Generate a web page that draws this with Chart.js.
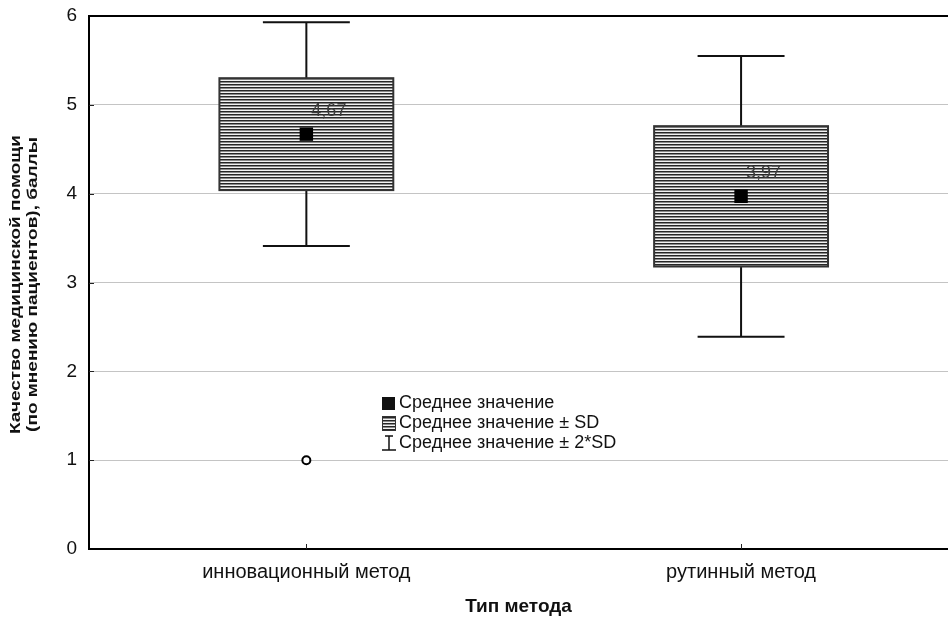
<!DOCTYPE html>
<html>
<head>
<meta charset="utf-8">
<script src="https://cdn.jsdelivr.net/npm/chart.js@4.4.1/dist/chart.umd.min.js"></script>
<style>
  html, body { margin: 0; padding: 0; background: #ffffff; }
  #wrap { width: 948px; height: 617px; }
</style>
</head>
<body>
<div id="wrap"><canvas id="chart" width="948" height="617"></canvas></div>
<script>
// Categories on the x axis
const categories = ['инновационный метод', 'рутинный метод'];
// Mean score per method and its standard deviation
const means = [4.67, 3.97];
const sds = [0.63, 0.79];
// Mean value captions
const meanLabels = ['4,67', '3,97'];
// Outlying observations: [category position, value]
const outlierPoints = [[1, 1]];
// Y axis ticks
const yTicks = [0, 1, 2, 3, 4, 5, 6];
// Axis titles and legend entries
const yTitleLines = ['Качество медицинской помощи', '(по мнению пациентов), баллы'];
const xTitle = 'Тип метода';
const legendItems = ['Среднее значение', 'Среднее значение ± SD', 'Среднее значение ± 2*SD'];

const FONT = "'Liberation Sans', Arial, sans-serif";
const positions = categories.map((_, i) => i + 1);

// horizontal line hatch used for the ±SD boxes
function makeHatch(ctx) {
  const p = document.createElement('canvas');
  p.width = 4; p.height = 3;
  const g = p.getContext('2d');
  g.fillStyle = '#f2f2f2'; g.fillRect(0, 0, 4, 3);
  g.fillStyle = '#262626'; g.fillRect(0, 0, 4, 1);
  g.fillStyle = '#8a8a8a'; g.fillRect(0, 1, 4, 1);
  return ctx.createPattern(p, 'repeat');
}

const boxPlugin = {
  id: 'meanSdBoxes',
  beforeDatasetsDraw(chart) {
    const { ctx, scales: { x, y } } = chart;
    const hatch = makeHatch(ctx);
    ctx.save();
    positions.forEach((pos, i) => {
      const m = means[i], s = sds[i];
      const xl = x.getPixelForValue(pos - 0.2), xr = x.getPixelForValue(pos + 0.2);
      const xc = x.getPixelForValue(pos);
      const cl = x.getPixelForValue(pos - 0.1), cr = x.getPixelForValue(pos + 0.1);
      const yTop = y.getPixelForValue(m + s), yBot = y.getPixelForValue(m - s);
      const wTop = y.getPixelForValue(m + 2 * s), wBot = y.getPixelForValue(m - 2 * s);
      // whiskers
      ctx.strokeStyle = '#111111';
      ctx.lineWidth = 2;
      ctx.beginPath();
      ctx.moveTo(xc, yTop); ctx.lineTo(xc, wTop);
      ctx.moveTo(cl, wTop); ctx.lineTo(cr, wTop);
      ctx.moveTo(xc, yBot); ctx.lineTo(xc, wBot);
      ctx.moveTo(cl, wBot); ctx.lineTo(cr, wBot);
      ctx.stroke();
      // box
      ctx.fillStyle = hatch;
      ctx.fillRect(xl, yTop, xr - xl, yBot - yTop);
      ctx.strokeStyle = '#333333';
      ctx.lineWidth = 2;
      ctx.strokeRect(xl, yTop, xr - xl, yBot - yTop);
    });
    ctx.restore();
  },
  afterDatasetsDraw(chart) {
    const { ctx, scales: { x, y } } = chart;
    ctx.save();
    ctx.font = '18px ' + FONT;
    ctx.fillStyle = '#3a3a3a';
    ctx.textAlign = 'left';
    ctx.textBaseline = 'middle';
    positions.forEach((pos, i) => {
      ctx.fillText(meanLabels[i], x.getPixelForValue(pos) + 5, y.getPixelForValue(means[i]) - 23);
    });
    ctx.restore();
  },
  afterDraw(chart) {
    const { ctx, chartArea: a, scales: { x, y } } = chart;
    ctx.save();
    // top frame line
    ctx.strokeStyle = '#000000';
    ctx.lineWidth = 2;
    ctx.beginPath();
    ctx.moveTo(a.left - 1, a.top); ctx.lineTo(a.right, a.top);
    ctx.stroke();
    // inner tick marks
    ctx.lineWidth = 1;
    ctx.strokeStyle = '#222222';
    ctx.beginPath();
    yTicks.slice(1, -1).forEach(v => {
      const py = Math.round(y.getPixelForValue(v)) + 0.5;
      ctx.moveTo(a.left, py); ctx.lineTo(a.left + 5, py);
    });
    positions.forEach(pos => {
      const px = Math.round(x.getPixelForValue(pos)) + 0.5;
      ctx.moveTo(px, a.bottom); ctx.lineTo(px, a.bottom - 5);
    });
    ctx.stroke();

    // y axis title, two rotated lines in a condensed face
    ctx.save();
    ctx.translate(16, (a.top + a.bottom) / 2 + 2);
    ctx.rotate(-Math.PI / 2);
    ctx.scale(1, 0.8);
    ctx.font = 'bold 19px ' + FONT;
    ctx.fillStyle = '#111111';
    ctx.textAlign = 'center';
    ctx.textBaseline = 'middle';
    yTitleLines.forEach((t, i) => ctx.fillText(t, 0, i * 20.5));
    ctx.restore();

    // legend
    const lx = 382, ly = 403, step = 20;
    ctx.font = '18px ' + FONT;
    ctx.fillStyle = '#111111';
    ctx.textAlign = 'left';
    ctx.textBaseline = 'middle';
    // mean marker icon
    ctx.fillRect(lx, ly - 6, 13, 13);
    // hatched box icon
    ctx.fillStyle = makeHatch(ctx);
    ctx.fillRect(lx, ly + step - 7, 13, 14);
    ctx.strokeStyle = '#333333';
    ctx.lineWidth = 1;
    ctx.strokeRect(lx + 0.5, ly + step - 6.5, 13, 14);
    // whisker icon
    ctx.strokeStyle = '#111111';
    ctx.lineWidth = 1.5;
    ctx.beginPath();
    const wy = ly + 2 * step;
    ctx.moveTo(lx + 3, wy - 7); ctx.lineTo(lx + 11, wy - 7);
    ctx.moveTo(lx + 7, wy - 7); ctx.lineTo(lx + 7, wy + 7);
    ctx.moveTo(lx, wy + 7); ctx.lineTo(lx + 14, wy + 7);
    ctx.stroke();
    ctx.fillStyle = '#111111';
    legendItems.forEach((t, i) => ctx.fillText(t, lx + 17, ly + i * step));
    ctx.restore();
  }
};

new Chart(document.getElementById('chart'), {
  type: 'scatter',
  data: {
    datasets: [
      {
        label: 'mean',
        data: positions.map((p, i) => ({ x: p, y: means[i] })),
        pointStyle: 'rect',
        pointRadius: 9.5,
        backgroundColor: '#000000',
        borderColor: '#000000',
        borderWidth: 0
      },
      {
        label: 'outliers',
        data: outlierPoints.map(([p, v]) => ({ x: p, y: v })),
        pointStyle: 'circle',
        pointRadius: 4,
        backgroundColor: '#ffffff',
        borderColor: '#000000',
        borderWidth: 2
      }
    ]
  },
  options: {
    responsive: false,
    animation: false,
    devicePixelRatio: 1,
    layout: { autoPadding: false, padding: { top: 16, right: 0, left: 0, bottom: 0 } },
    plugins: { legend: { display: false }, tooltip: { enabled: false }, title: { display: false } },
    scales: {
      x: {
        type: 'linear',
        min: 0.5,
        max: 2.476,
        afterBuildTicks: s => { s.ticks = positions.map(v => ({ value: v })); },
        afterFit: s => { s.height = 68; s.paddingLeft = 0; s.paddingRight = 0; },
        grid: { display: false, drawTicks: false, tickLength: 0 },
        border: { display: true, color: '#000000', width: 2 },
        ticks: {
          callback: v => categories[v - 1] || '',
          font: { family: FONT, size: 20 },
          color: '#111111',
          padding: 11,
          maxRotation: 0,
          autoSkip: false
        },
        title: {
          display: true,
          text: xTitle,
          font: { family: FONT, size: 19, weight: 'bold', lineHeight: 1 },
          color: '#111111',
          padding: { top: 0, bottom: 1 }
        }
      },
      y: {
        min: 0,
        max: 6,
        afterBuildTicks: s => { s.ticks = yTicks.map(v => ({ value: v })); },
        afterFit: s => { s.width = 89; s.paddingTop = 0; s.paddingBottom = 0; },
        grid: { color: '#c4c4c4', lineWidth: 1, drawTicks: false, tickLength: 0 },
        border: { display: true, color: '#000000', width: 2 },
        ticks: {
          font: { family: FONT, size: 19 },
          color: '#111111',
          padding: 12
        },
        title: { display: false }
      }
    }
  },
  plugins: [boxPlugin]
});
</script>
</body>
</html>
